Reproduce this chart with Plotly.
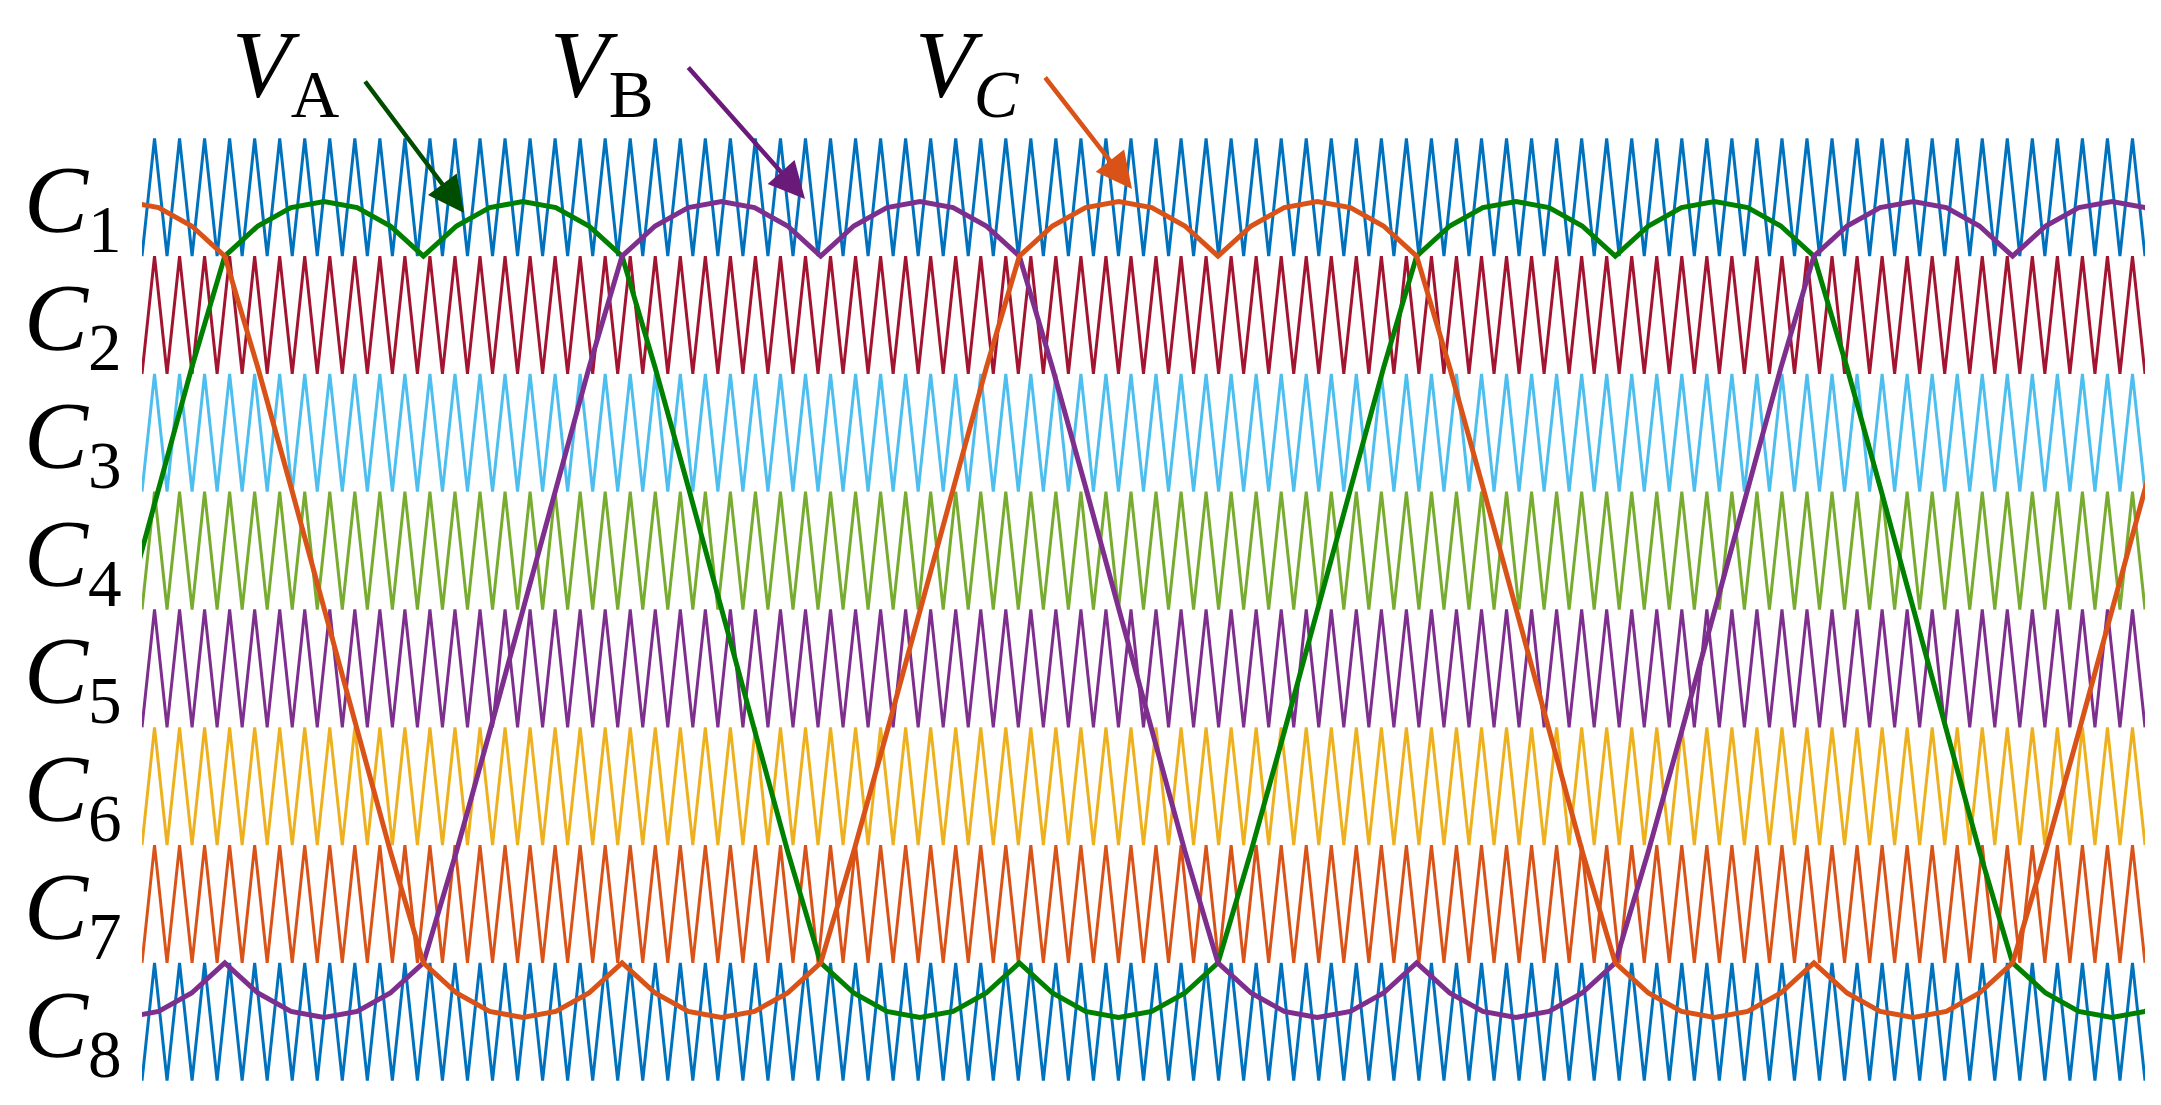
import numpy as np
import plotly.graph_objects as go

# one fundamental period of the modulated reference (degrees, per-unit)
ref_angle = list(range(0, 361, 10))
ref_value = [0.0, 0.26, 0.513, 0.75, 0.814, 0.853, 0.866, 0.853, 0.814, 0.75,
             0.814, 0.853, 0.866, 0.853, 0.814, 0.75, 0.513, 0.26, 0.0,
             -0.26, -0.513, -0.75, -0.814, -0.853, -0.866, -0.853, -0.814, -0.75,
             -0.814, -0.853, -0.866, -0.853, -0.814, -0.75, -0.513, -0.26, 0.0]
phase_names = ["A", "B", "C"]
phase_shift = [0, 120, 240]
phase_colors = ["#008000", "#7E2F8E", "#D95319"]

carrier_names = ["1", "2", "3", "4", "5", "6", "7", "8"]
carrier_colors = ["#0072BD", "#A2142F", "#4DBEEE", "#77AC30", "#7E2F8E", "#EDB120", "#D95319", "#0072BD"]
band_top = [1.0, 0.75, 0.5, 0.25, 0.0, -0.25, -0.5, -0.75]
band_bottom = [0.75, 0.5, 0.25, 0.0, -0.25, -0.5, -0.75, -1.0]
n_carrier_periods = 80
x_start, x_end = 5, 610

fig = go.Figure()
period = (x_end - x_start) / n_carrier_periods
xc = x_start + np.arange(2 * n_carrier_periods + 1) * period / 2
for name, col, top, bot in zip(carrier_names, carrier_colors, band_top, band_bottom):
    yc = [bot if i % 2 == 0 else top for i in range(len(xc))]
    fig.add_trace(go.Scatter(x=xc, y=yc, mode="lines", line=dict(color=col, width=3), showlegend=False))

ang = np.array(ref_angle, dtype=float)
val = np.array(ref_value)
for name, sh, col in zip(phase_names, phase_shift, phase_colors):
    xs, ys = [], []
    for k in range(-1, 3):
        xs += list(ang + sh + 360 * k)
        ys += list(val)
    fig.add_trace(go.Scatter(x=xs, y=ys, mode="lines", line=dict(color=col, width=5), showlegend=False))

L, R, T, B = 134, 24, 128, 30
W, H = 2161, 1105
def px(x): return (x - L) / (W - L - R)
def py(y): return (H - B - y) / (H - T - B)

ann = []
font = dict(family="Liberation Serif", size=96, color="black")
for i, name in enumerate(carrier_names):
    yc_mid = (band_top[i] + band_bottom[i]) / 2
    ann.append(dict(x=px(14), y=yc_mid - 0.02, xref="paper", yref="y", xanchor="left", yanchor="middle",
                    text="<i>C</i><sub>%s</sub>" % name, showarrow=False, font=font))
vlabels = [("<i>V</i><sub>A</sub>", 222), ("<i>V</i><sub>B</sub>", 540), ("<i>V</i><sub><i>C</i></sub>", 905)]
for txt, xl in vlabels:
    ann.append(dict(x=px(xl), y=py(64), xref="paper", yref="paper", xanchor="left", yanchor="middle",
                    text=txt, showarrow=False, font=font))
arrows = [((356, 72), (456, 205), "#004D00"), ((679, 58), (797, 191), "#6A1B7A"), ((1036, 68), (1124, 181), "#D95319")]
for (x0, y0), (x1, y1), c in arrows:
    ann.append(dict(x=px(x1), y=py(y1), ax=x0 - x1, ay=y0 - y1, xref="paper", yref="paper",
                    axref="pixel", ayref="pixel", showarrow=True, arrowhead=2, arrowsize=1.6,
                    arrowwidth=4.5, arrowcolor=c, text=""))

fig.update_layout(width=W, height=H, margin=dict(l=L, r=R, t=T, b=B),
                  plot_bgcolor="white", paper_bgcolor="white", annotations=ann)
fig.update_xaxes(range=[x_start, x_end], visible=False)
fig.update_yaxes(range=[-1.005, 1.005], visible=False)
fig.write_html("out.html")
